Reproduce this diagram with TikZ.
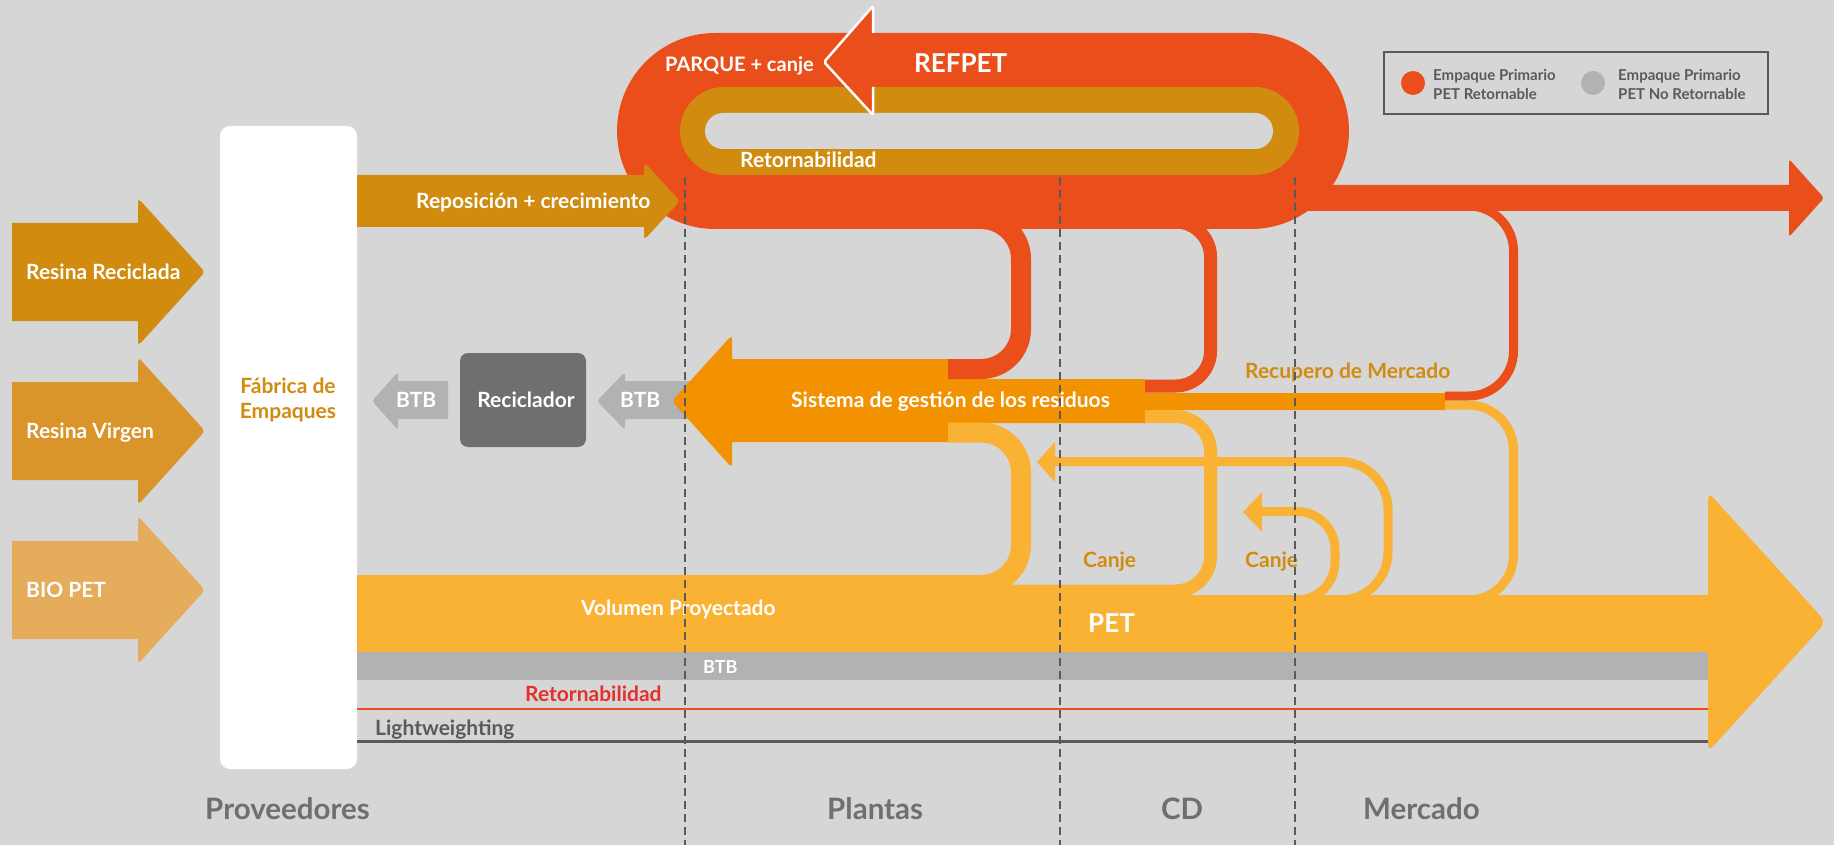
\documentclass[tikz,border=0pt]{standalone}
\usepackage{fontspec}
\setmainfont{Lato}
\definecolor{bggray}{HTML}{D6D6D6}
\definecolor{refred}{HTML}{E94E1B}
\definecolor{goldA}{HTML}{D18B0F}
\definecolor{goldB}{HTML}{D9942A}
\definecolor{goldC}{HTML}{E5AC5C}
\definecolor{sysorange}{HTML}{F39200}
\definecolor{petyellow}{HTML}{F9B233}
\definecolor{btbgray}{HTML}{B2B2B2}
\definecolor{recgray}{HTML}{6F6F6F}
\definecolor{darkline}{HTML}{5A5A5A}
\definecolor{rettxt}{HTML}{E4312B}
\newcommand{\fsz}[1]{\fontsize{#1}{#1}\selectfont}

\tikzset{
  lbl/.style={inner sep=0pt, anchor=base west, text=white, font=\fsz{21}\bfseries},
  goldlbl/.style={lbl, text=goldA},
  zone/.style={lbl, text=recgray, font=\fsz{29.5}\bfseries},
  flow/.style={line cap=butt, rounded corners=#1pt},
}

\begin{document}
\begin{tikzpicture}[x=1pt, y=-1pt]
  \useasboundingbox (0,0) rectangle (1834,845);
  \fill[bggray] (0,0) rectangle (1834,845);

  %% resinas de entrada
  \foreach \yc/\col/\txt [count=\i] in {272/goldA/Resina Reciclada, 431/goldB/Resina Virgen, 590/goldC/BIO PET} {
    \fill[\col] (12,\yc-49) -- (138,\yc-49) [rounded corners=4pt] -- (138,\yc-74) -- (205,\yc) -- (138,\yc+74) [sharp corners] -- (138,\yc+49) -- (12,\yc+49) -- cycle;
    \node[lbl] (in\i) at (26,\yc+7) {\txt};
  }

  %% fabrica de empaques
  \fill[white, rounded corners=10pt] (220,126) rectangle (357,769);
  \node[goldlbl, anchor=base, align=center, font=\fontsize{21}{25}\selectfont\bfseries] (fabrica) at (288,418) {Fábrica de\\Empaques};

  %% lazo REFPET
  \fill[refred, rounded corners=98pt] (617,33) rectangle (1349,229);
  \fill[goldA, rounded corners=44pt] (680,87) rectangle (1299,175);
  \fill[bggray, rounded corners=18pt] (705,113) rectangle (1273,149);
  \fill[refred] (1300,185) -- (1789,185) [rounded corners=3pt] -- (1789,159) -- (1824,198) -- (1789,237) [sharp corners] -- (1789,211) -- (1300,211) -- cycle;

  %% punta blanca sobre el lazo
  \fill[refred] (873,6) -- (824,62) -- (873,115) -- cycle;
  \draw[white, line width=2.5pt, line join=round, rounded corners=2pt] (873,33) -- (873,6) -- (824,62) -- (873,115) -- (873,87);

  %% reposicion + crecimiento
  \fill[goldA] (357,175) -- (644,175) [rounded corners=4pt] -- (644,162) -- (680,201) -- (644,240) [sharp corners] -- (644,227) -- (357,227) -- cycle;
  \node[lbl] (repos) at (416,209) {Reposición + crecimiento};

  \node[lbl, font=\fsz{20}\bfseries] (parque) at (665,72) {PARQUE + canje};
  \node[lbl, font=\fsz{26}\bfseries] (refpet) at (914,73) {REFPET};
  \node[lbl] (retor1) at (740,168) {Retornabilidad};

  %% BTB y reciclador
  \foreach \xt/\xb/\xe/\xl [count=\j] in {597/625/690/620, 372/398/448/396} {
    \fill[btbgray] (\xe,381) -- (\xb,381) [rounded corners=3pt] -- (\xb,372) -- (\xt,401) -- (\xb,430) [sharp corners] -- (\xb,419) -- (\xe,419) -- cycle;
    \node[lbl] (btb\j) at (\xl,407) {BTB};
  }
  \fill[recgray, rounded corners=8pt] (460,353) rectangle (586,447);
  \node[lbl, anchor=base] (recic) at (526,407) {Reciclador};

  %% sistema de gestion
  \fill[sysorange] (948,359) -- (732,359) [rounded corners=4pt] -- (732,335) -- (672,401) -- (732,468) [sharp corners] -- (732,442) -- (948,442) -- (948,423) -- (1145,423) -- (1145,410) -- (1445,410) -- (1445,393) -- (1145,393) -- (1145,379) -- (948,379) -- cycle;
  \node[lbl] (sistema) at (791,407) {Sistema de gestión de los residuos};

  %% retornos al sistema
  \draw[refred, line width=20pt, flow=40] (940,219) -- (1021,219) -- (1021,369) -- (948,369);
  \draw[refred, line width=13pt, flow=35] (1150,222) -- (1210.5,222) -- (1210.5,386) -- (1145,386);
  \draw[refred, line width=9pt, flow=45] (1440,206) -- (1513.5,206) -- (1513.5,396) -- (1445,396);

  %% salidas hacia PET
  \draw[petyellow, line width=20pt, flow=40] (948,432.5) -- (1021,432.5) -- (1021,585) -- (357,585);
  \draw[petyellow, line width=13pt, flow=35] (1145,416.5) -- (1210.5,416.5) -- (1210.5,591) -- (357,591);
  \draw[petyellow, line width=9pt, flow=45] (1445,405) -- (1513.5,405) -- (1513.5,600) -- (1460,600);

  %% canje
  \draw[petyellow, line width=9pt, flow=48] (1055,461.5) -- (1388,461.5) -- (1388,600) -- (1340,600);
  \fill[petyellow] (1037,462) -- (1055,442) -- (1055,482) -- cycle;
  \draw[petyellow, line width=9pt, flow=38] (1262,511.5) -- (1335,511.5) -- (1335,600) -- (1290,600);
  \fill[petyellow] (1243,512) -- (1262,492) -- (1262,532) -- cycle;

  %% banda PET y lineas inferiores
  \fill[petyellow] (357,595) rectangle (1708,652);
  \fill[btbgray] (357,652) rectangle (1708,680);
  \draw[refred, line width=2.5pt] (357,709) -- (1708,709);
  \draw[darkline, line width=3pt] (357,741) -- (1708,741);
  \fill[petyellow, rounded corners=8pt] (1708,492) -- (1826,622) -- (1708,752) -- cycle;

  \node[lbl] (volumen) at (581,615) {Volumen Proyectado};
  \node[lbl, font=\fsz{26}\bfseries] (pet) at (1088,632) {PET};
  \node[lbl, font=\fsz{18}\bfseries] (btb3) at (703,673) {BTB};
  \node[lbl, text=rettxt] (retor2) at (525,701) {Retornabilidad};
  \node[lbl, text=darkline] (light) at (375,735) {Lightweighting};

  \node[goldlbl] (canje1) at (1083,567) {Canje};
  \node[goldlbl] (canje2) at (1245,567) {Canje};
  \node[goldlbl] (recup) at (1245,378) {Recupero de Mercado};

  %% etapas
  \node[zone] (prov) at (205,819) {Proveedores};
  \node[zone] (plant) at (827,819) {Plantas};
  \node[zone] (cd) at (1161,819) {CD};
  \node[zone] (merc) at (1363,819) {Mercado};

  %% leyenda
  \draw[darkline, line width=2pt] (1384,52) rectangle (1768,114);
  \fill[refred] (1413,83) circle (12);
  \fill[btbgray] (1593,83) circle (12);
  \node[lbl, text=darkline, align=left, font=\fontsize{15}{19}\selectfont\bfseries] (leg1) at (1433,100) {Empaque Primario\\PET Retornable};
  \node[lbl, text=darkline, align=left, font=\fontsize{15}{19}\selectfont\bfseries] (leg2) at (1618,100) {Empaque Primario\\PET No Retornable};

  %% limites de etapas
  \foreach \xd in {685,1060,1295}
    \draw[darkline, line width=2pt, dash pattern=on 8pt off 5pt] (\xd,177) -- (\xd,845);
\end{tikzpicture}
\end{document}
